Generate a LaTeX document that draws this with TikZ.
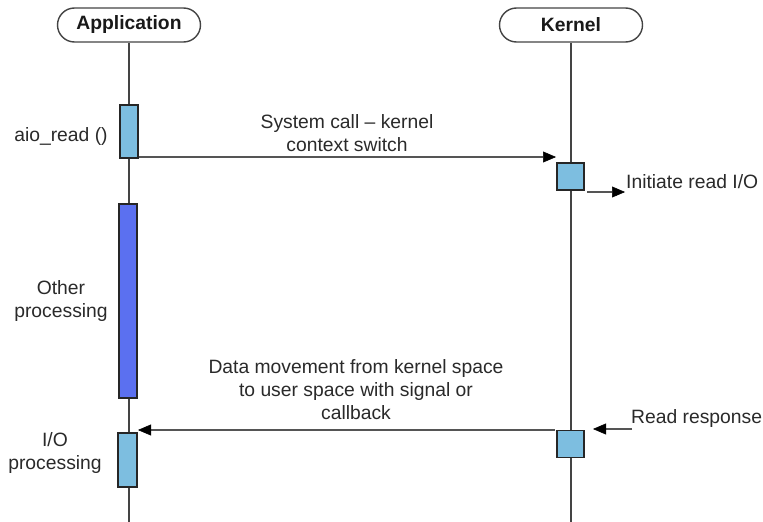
\documentclass[tikz,border=0pt]{standalone}
\usepackage{fontspec}
\setmainfont{Liberation Sans}
\usetikzlibrary{arrows.meta,calc}
\definecolor{txt}{HTML}{2A2A2A}
\definecolor{lightbox}{HTML}{7DBEE0}
\definecolor{darkbox}{HTML}{5B70F0}
\definecolor{linegray}{HTML}{444444}
\definecolor{arrgray}{HTML}{555555}
\tikzset{
  pill/.style={draw=linegray, line width=1.4pt, rounded corners=17pt, minimum width=143pt, minimum height=34pt, font=\fontsize{19.3}{22}\selectfont\bfseries, text=black!90, fill=white, inner sep=0pt},
  lifeline/.style={draw=linegray, line width=1.4pt},
  actbox/.style={draw=black!85, line width=1.8pt, fill=lightbox, inner sep=0pt},
  lbl/.style={font=\fontsize{19.3}{23}\selectfont, text=txt, align=center, inner sep=0pt},
  msg/.style={draw=arrgray, line width=1.8pt, -{Triangle[length=13pt,width=11pt,color=black,fill=black,line width=0.5pt]}},
}
\begin{document}
\begin{tikzpicture}[x=1pt,y=-1pt]
\useasboundingbox[fill=white] (0,0) rectangle (763,522);
% lifeline ends
\coordinate (appEnd) at (129,522);
\coordinate (kerEnd) at (571,522);
% heads
\node[pill] (app) at (129,25) {Application};
\node[pill] (ker) at (571,25) {Kernel};
\draw[lifeline] (app.south) -- (appEnd);
\draw[lifeline] (ker.south) -- (kerEnd);
% activation boxes
\node[actbox, minimum width=18pt, minimum height=53pt] (aio) at (129,131.5) {};
\node[actbox, fill=darkbox, minimum width=18pt, minimum height=194pt] (other) at (128,301) {};
\node[actbox, minimum width=19pt, minimum height=54pt] (iop) at (127.5,460) {};
\node[actbox, minimum width=27pt, minimum height=27pt] (k1) at (570.5,176.5) {};
\node[actbox, minimum width=27pt, minimum height=27pt] (k2) at (570.5,444) {};
% labels
\node[lbl] (laio) at (61,137) {aio\_read ()};
\node[lbl] (lother) at (61,301.5) {Other\\processing};
\node[lbl] (liop) at (55,453.5) {I/O\\processing};
\node[lbl] (lsys) at (347,133.5) {System call -- kernel\\context switch};
\node[lbl] (ldata) at (356,390) {Data movement from kernel space\\to user space with signal or\\callback};
\node[lbl, anchor=west] (linit) at (626,182) {Initiate read I/O};
\node[lbl, anchor=west] (lresp) at (631,419) {Read response};
% message endpoints
\coordinate (sysStart) at (aio.south east |- 0,157);
\coordinate (sysEnd) at (556,157);
\coordinate (initStart) at (587,192);
\coordinate (initEnd) at (625,192);
\coordinate (respStart) at (632,429);
\coordinate (respEnd) at (593,429);
\coordinate (retStart) at (555,430);
\coordinate (retEnd) at (138,430);
\draw[msg] (sysStart) -- (sysEnd);
\draw[msg] (initStart) -- (initEnd);
\draw[msg] (respStart) -- (respEnd);
\draw[msg] (retStart) -- (retEnd);
\end{tikzpicture}
\end{document}
